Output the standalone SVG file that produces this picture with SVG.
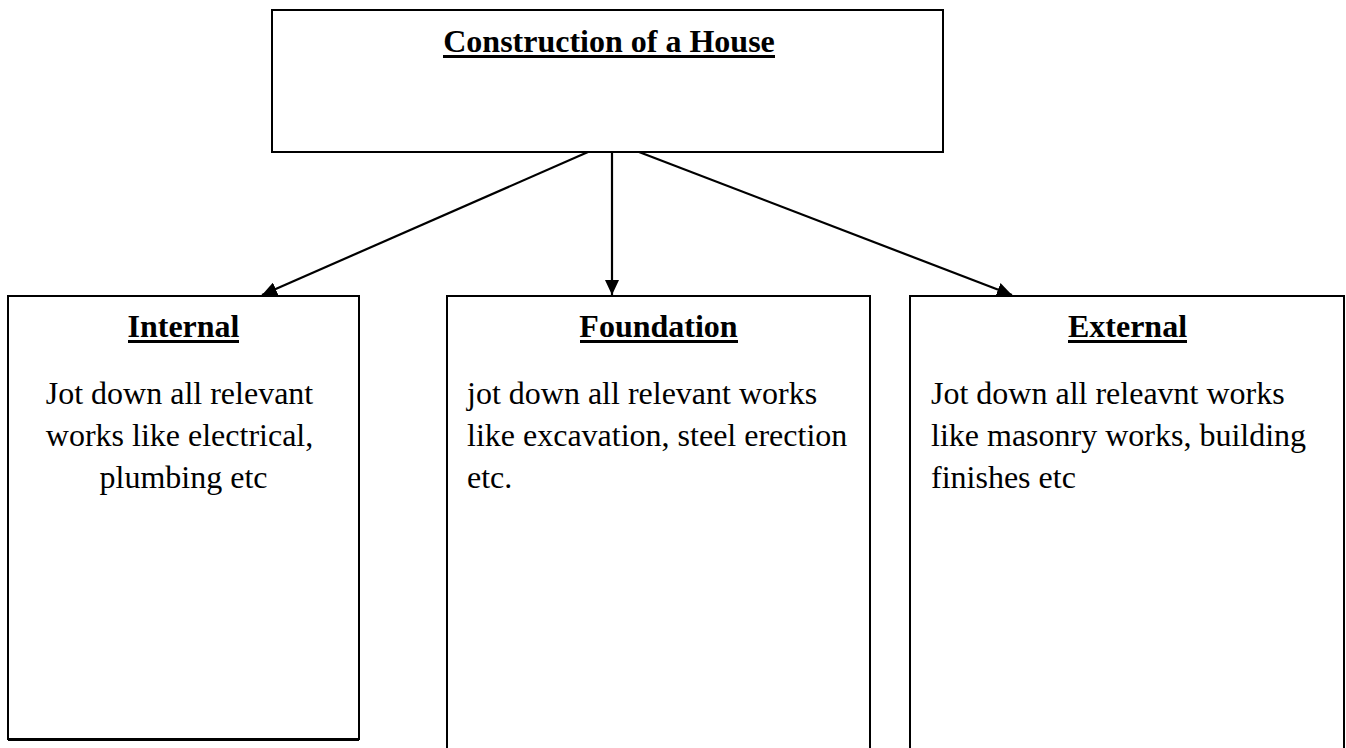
<svg xmlns="http://www.w3.org/2000/svg" width="1346" height="748" viewBox="0 0 1346 748">
  <style>
    .box { fill: #ffffff; stroke: #000000; stroke-width: 2; }
    .head { font-family: "Liberation Serif", "Times New Roman", serif; font-weight: bold; font-size: 32px; fill: #000000; }
    .rule { fill: #000000; }
    .body { font-family: "Liberation Serif", "Times New Roman", serif; font-size: 32px; fill: #000000; }
    .link { stroke: #000000; stroke-width: 2.2; fill: none; marker-end: url(#arrow); }
  </style>
  <defs>
    <marker id="arrow" markerUnits="userSpaceOnUse" markerWidth="16" markerHeight="14" refX="15" refY="7" orient="auto">
      <path d="M0,0 L15,7 L0,14 Z" fill="#000000"/>
    </marker>
  </defs>
  <rect width="1346" height="748" fill="#ffffff"/>

  <!-- top-level node -->
  <g id="house">
    <rect class="box" x="272" y="10" width="671" height="142"/>
    <text class="head" x="609" y="52" text-anchor="middle">Construction of a House</text>
    <rect class="rule" x="443" y="55" width="332" height="3"/>
  </g>

  <!-- work packages -->
  <g id="internal">
    <rect class="box" x="8" y="296" width="351" height="443"/>
    <line x1="8" y1="739.5" x2="359" y2="739.5" stroke="#000000" stroke-width="3"/>
    <text class="head" x="183.5" y="337" text-anchor="middle">Internal</text>
    <rect class="rule" x="128" y="340" width="111" height="3"/>
    <text class="body" text-anchor="middle">
      <tspan x="183.5" y="404">Jot down all relevant</tspan>
      <tspan x="183.5" y="446">works like electrical,</tspan>
      <tspan x="183.5" y="488">plumbing etc</tspan>
    </text>
  </g>

  <g id="foundation">
    <rect class="box" x="447" y="296" width="423" height="470"/>
    <text class="head" x="658.5" y="337" text-anchor="middle">Foundation</text>
    <rect class="rule" x="580" y="340" width="158" height="3"/>
    <text class="body">
      <tspan x="467" y="404">jot down all relevant works</tspan>
      <tspan x="467" y="446">like excavation, steel erection</tspan>
      <tspan x="467" y="488">etc.</tspan>
    </text>
  </g>

  <g id="external">
    <rect class="box" x="910" y="296" width="434" height="470"/>
    <text class="head" x="1127.5" y="337" text-anchor="middle">External</text>
    <rect class="rule" x="1068" y="340" width="119" height="3"/>
    <text class="body">
      <tspan x="931" y="404">Jot down all releavnt works</tspan>
      <tspan x="931" y="446">like masonry works, building</tspan>
      <tspan x="931" y="488">finishes etc</tspan>
    </text>
  </g>

  <!-- connectors -->
  <g id="connectors">
    <line class="link" x1="588" y1="152" x2="262" y2="295"/>
    <line class="link" x1="612" y1="152" x2="612" y2="295"/>
    <line class="link" x1="639" y1="152" x2="1012" y2="295"/>
  </g>
</svg>
